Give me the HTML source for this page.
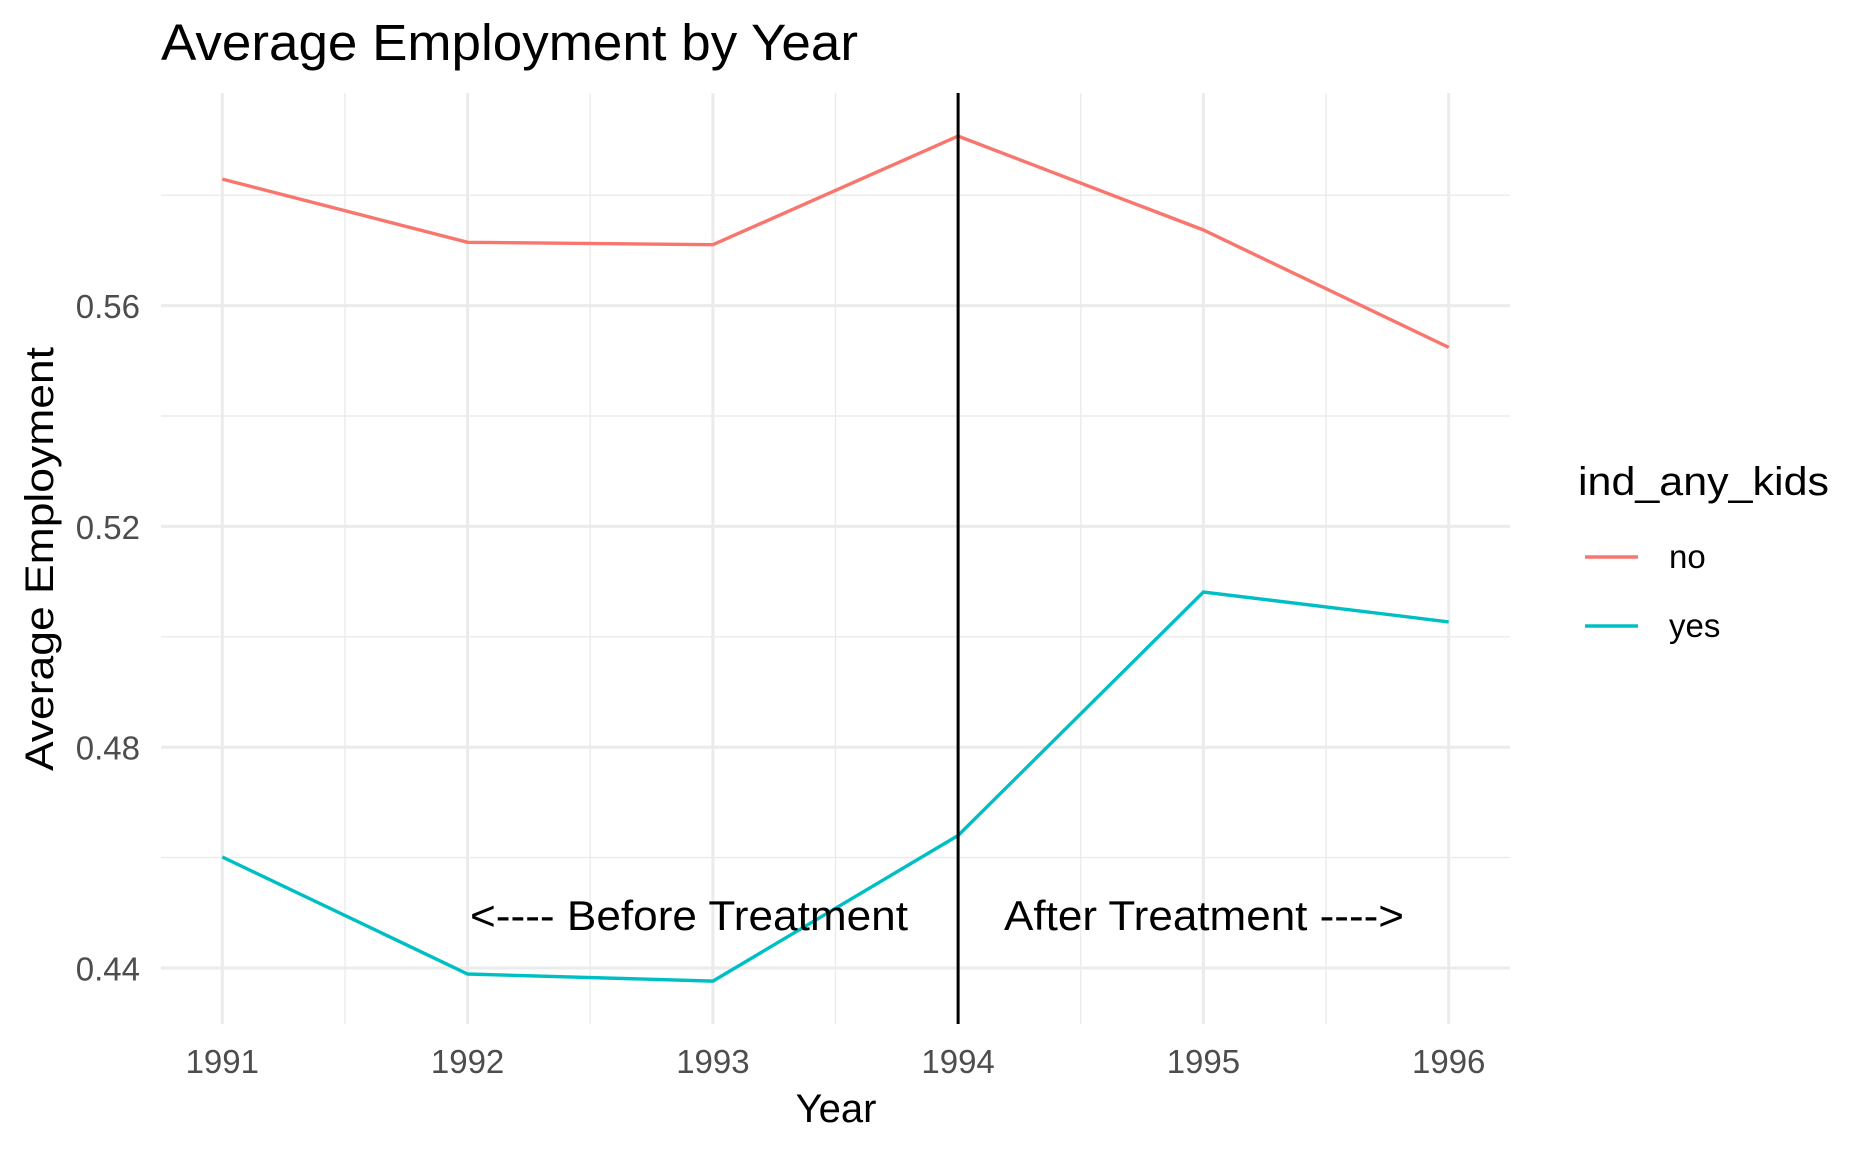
<!DOCTYPE html>
<html><head><meta charset="utf-8"><style>html,body{margin:0;padding:0;background:#fff}svg{display:block}</style></head>
<body>
<svg width="1872" height="1152" viewBox="0 0 1872 1152" xmlns="http://www.w3.org/2000/svg" font-family="Liberation Sans, Arial, sans-serif">
<rect width="1872" height="1152" fill="#fff"/>
<g stroke="#ebebeb" stroke-width="1.4">
<line x1="161" x2="1510" y1="195.2" y2="195.2"/><line x1="161" x2="1510" y1="416" y2="416"/><line x1="161" x2="1510" y1="636.8" y2="636.8"/><line x1="161" x2="1510" y1="857.6" y2="857.6"/>
<line y1="93" y2="1024" x1="345" x2="345"/><line y1="93" y2="1024" x1="590.2" x2="590.2"/><line y1="93" y2="1024" x1="835.5" x2="835.5"/><line y1="93" y2="1024" x1="1080.8" x2="1080.8"/><line y1="93" y2="1024" x1="1326" x2="1326"/>
</g>
<g stroke="#ebebeb" stroke-width="3">
<line x1="161" x2="1510" y1="305.6" y2="305.6"/><line x1="161" x2="1510" y1="526.4" y2="526.4"/><line x1="161" x2="1510" y1="747.2" y2="747.2"/><line x1="161" x2="1510" y1="968" y2="968"/>
<line y1="93" y2="1024" x1="222.3" x2="222.3"/><line y1="93" y2="1024" x1="467.6" x2="467.6"/><line y1="93" y2="1024" x1="712.9" x2="712.9"/><line y1="93" y2="1024" x1="958.1" x2="958.1"/><line y1="93" y2="1024" x1="1203.4" x2="1203.4"/><line y1="93" y2="1024" x1="1448.7" x2="1448.7"/>
</g>
<polyline fill="none" stroke="#F8766D" stroke-width="3.4" points="222.3,179.1 467.6,242.3 712.9,244.7 958.1,136.1 1203.4,230 1448.7,347.4"/>
<polyline fill="none" stroke="#00BFC4" stroke-width="3.4" points="222.3,857 467.6,974 712.9,981.1 958.1,835.5 1203.4,592 1448.7,621.9"/>
<line x1="958.1" x2="958.1" y1="93" y2="1024" stroke="#000" stroke-width="3"/>
<g font-size="42" fill="#000">
<text x="470" y="930" textLength="438" lengthAdjust="spacingAndGlyphs">&lt;---- Before Treatment</text>
<text x="1004" y="930" textLength="400" lengthAdjust="spacingAndGlyphs">After Treatment ----&gt;</text>
</g>
<g font-size="33" fill="#4d4d4d" text-anchor="middle">
<text x="222.3" y="1073">1991</text><text x="467.6" y="1073">1992</text><text x="712.9" y="1073">1993</text><text x="958.1" y="1073">1994</text><text x="1203.4" y="1073">1995</text><text x="1448.7" y="1073">1996</text>
</g>
<g font-size="33" fill="#4d4d4d" text-anchor="end">
<text x="140" y="318">0.56</text><text x="140" y="538.8">0.52</text><text x="140" y="759.6">0.48</text><text x="140" y="980.4">0.44</text>
</g>
<text x="836" y="1122" font-size="40" text-anchor="middle">Year</text>
<text transform="translate(53,559) rotate(-90)" font-size="40" text-anchor="middle" textLength="424" lengthAdjust="spacingAndGlyphs">Average Employment</text>
<text x="161" y="60" font-size="51" textLength="697" lengthAdjust="spacingAndGlyphs">Average Employment by Year</text>
<text x="1578" y="495" font-size="40" textLength="251" lengthAdjust="spacingAndGlyphs">ind_any_kids</text>
<line x1="1585" x2="1638" y1="557" y2="557" stroke="#F8766D" stroke-width="3.4"/>
<line x1="1585" x2="1638" y1="626" y2="626" stroke="#00BFC4" stroke-width="3.4"/>
<text x="1669" y="568" font-size="33">no</text>
<text x="1669" y="637" font-size="33">yes</text>
</svg>
</body></html>
